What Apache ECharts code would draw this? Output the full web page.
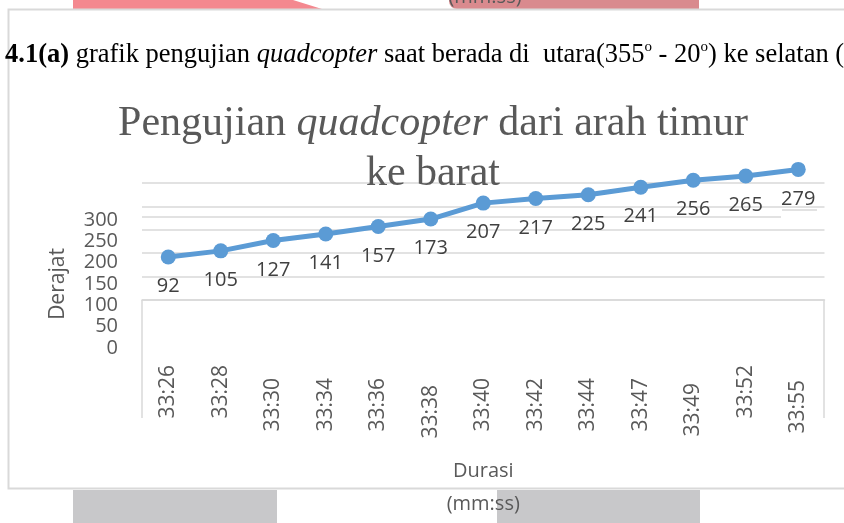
<!DOCTYPE html>
<html>
<head>
<meta charset="utf-8">
<script src="https://cdn.jsdelivr.net/npm/echarts@6/dist/echarts.min.js"></script>
<style>html,body{margin:0;padding:0;background:#fff;}#c{width:844px;height:523px;}</style>
</head>
<body>
<div id="c"></div>
<script>
// ---- data ----
const categories = ['33:26','33:28','33:30','33:34','33:36','33:38','33:40','33:42','33:44','33:47','33:49','33:52','33:55'];
const degrees = [92,105,127,141,157,173,207,217,225,241,256,265,279];
const yTickMin = 0, yTickMax = 300, yTickStep = 50;
// ---- style only: per-label extra offset seen in the scan ----
const labelShift = [0,0,13,13,13,20,13,13,13,13,18,0,15];

const FONT = 'Open Sans';
const SERIF = 'Liberation Serif';
const GRAY = '#595959';
const GRID = '#d9d9d9';

const chart = echarts.init(document.getElementById('c'), null, {renderer:'canvas'});
const option = {
  animation: false,
  backgroundColor: '#ffffff',
  title: {
    text: '{n|Pengujian }{i|quadcopter}{n| dari arah timur}\n{n|ke barat}',
    left: 428, top: 94, textAlign: 'center',
    textStyle: {
      fontWeight: 'normal',
      rich: {
        n: {fontFamily: SERIF, fontSize: 42, fontWeight: 'normal', color: GRAY, lineHeight: 50},
        i: {fontFamily: SERIF, fontSize: 42, fontWeight: 'normal', color: GRAY, lineHeight: 50, fontStyle: 'italic'}
      }
    }
  },
  grid: [
    {left: 142, width: 682.5, top: 183, height: 117, outerBoundsMode: 'none'},
    {left: 126, width: 10, top: 220, height: 128, outerBoundsMode: 'none'}
  ],
  xAxis: [
    {
      type: 'category', gridIndex: 0, boundaryGap: true,
      data: categories.map((c, i) => ({value: c, textStyle: {padding: [0, labelShift[i], 0, 0]}})),
      axisLine: {lineStyle: {color: GRID, width: 1.5}},
      axisTick: {show: false},
      axisLabel: {rotate: 90, margin: 65, interval: 0, fontSize: 21, fontFamily: FONT, color: GRAY},
      name: 'Durasi\n(mm:ss)', nameLocation: 'middle', nameGap: 155,
      nameTextStyle: {fontSize: 20, fontFamily: FONT, color: GRAY, lineHeight: 33}
    },
    {type: 'value', gridIndex: 1, show: false, min: 0, max: 1}
  ],
  yAxis: [
    {
      type: 'value', gridIndex: 0, min: 0, max: 250, interval: 50,
      axisLabel: {show: false}, axisLine: {show: false}, axisTick: {show: false},
      splitLine: {lineStyle: {color: GRID, width: 1.5}}
    },
    {
      type: 'value', gridIndex: 1, min: yTickMin, max: yTickMax, interval: yTickStep,
      axisLine: {show: false}, axisTick: {show: false}, splitLine: {show: false},
      axisLabel: {fontSize: 20, fontFamily: FONT, color: GRAY},
      name: 'Derajat', nameLocation: 'middle', nameGap: 57,
      nameTextStyle: {fontSize: 21, fontFamily: FONT, color: GRAY}
    }
  ],
  series: [{
    type: 'line', xAxisIndex: 0, yAxisIndex: 0, data: degrees, clip: false,
    symbol: 'circle', symbolSize: 15,
    lineStyle: {width: 5, color: '#5b9bd5'},
    itemStyle: {color: '#5b9bd5'},
    label: {show: true, position: 'bottom', distance: 12, fontSize: 20, fontFamily: FONT, color: '#404040'}
  }],
  graphic: [
    {type: 'polygon', z: -10, shape: {points: [[73,0],[293,0],[322,9],[73,9]]}, style: {fill: '#f4888f'}},
    {type: 'rect', z: -10, shape: {x: 449, y: -6, width: 250, height: 15, r: [0,0,0,8]}, style: {fill: '#d98a8e'}},
    {type: 'text', z: -5, x: 485, y: -3, style: {text: '(mm:ss)', fontSize: 20, fontFamily: FONT, fill: GRAY, align: 'center', verticalAlign: 'middle'}},
    {type: 'rect', z: -10, shape: {x: 73, y: 490, width: 204, height: 40}, style: {fill: '#c8c8ca'}},
    {type: 'rect', z: -10, shape: {x: 497, y: 490, width: 203, height: 40}, style: {fill: '#c8c8ca'}},
    {type: 'polyline', z: -8, shape: {points: [[860,9.5],[8.5,9.5],[8.5,488.5],[860,488.5]]}, style: {fill: 'none', stroke: GRID, lineWidth: 2}},
    {type: 'line', z: -8, shape: {x1: 142, y1: 217, x2: 781, y2: 217}, style: {stroke: GRID, lineWidth: 1.5}},
    {type: 'line', z: -8, shape: {x1: 782, y1: 210, x2: 817, y2: 210}, style: {stroke: GRID, lineWidth: 1.5}},
    {type: 'line', z: -8, shape: {x1: 142, y1: 300, x2: 142, y2: 418}, style: {stroke: GRID, lineWidth: 1.5}},
    {type: 'line', z: -8, shape: {x1: 824, y1: 300, x2: 824, y2: 418}, style: {stroke: GRID, lineWidth: 1.5}},
    {type: 'text', x: 5, y: 55, style: {
      text: '{b|4.1(a)}{r| grafik pengujian }{i|quadcopter}{r| saat berada di  utara(355}{s|o}{r| - 20}{s|o}{r|) ke selatan (}',
      verticalAlign: 'middle', align: 'left',
      rich: {
        b: {fontFamily: SERIF, fontSize: 26.5, fontWeight: 'bold', fill: '#000', lineHeight: 30},
        r: {fontFamily: SERIF, fontSize: 26.5, fill: '#000', lineHeight: 30},
        i: {fontFamily: SERIF, fontSize: 26.5, fontStyle: 'italic', fill: '#000', lineHeight: 30},
        s: {fontFamily: SERIF, fontSize: 15, fill: '#000', lineHeight: 30, verticalAlign: 'top'}
      }
    }}
  ]
};
chart.setOption(option);
</script>
</body>
</html>
